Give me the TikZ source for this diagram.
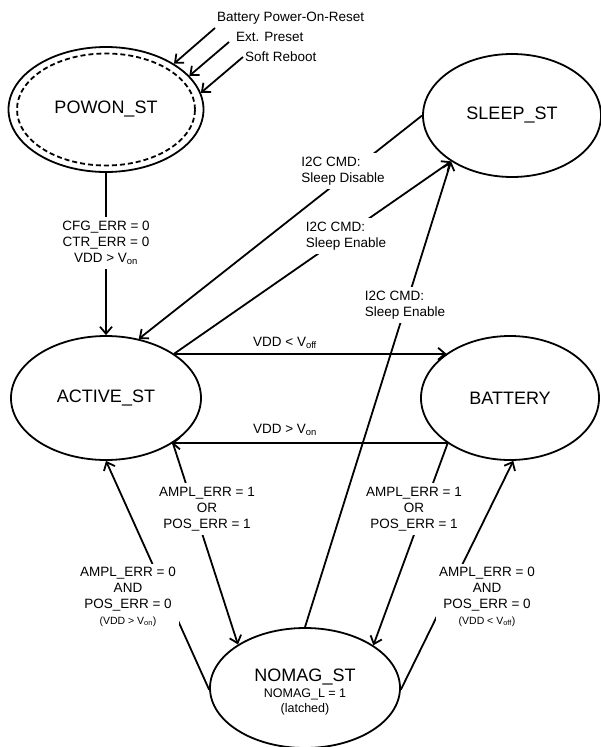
\documentclass[tikz,border=0pt]{standalone}
\usepackage{fontspec}
\setmainfont{Liberation Sans}
\usetikzlibrary{arrows.meta,shapes.geometric}
\tikzset{
  st/.style={draw, ellipse, line width=1.8pt, inner sep=0pt, align=center,
    font=\fontsize{18}{20}\selectfont},
  tr/.style={line width=1.8pt, -{Straight Barb[length=7pt,width=12pt,line width=1.8pt]}},
  lbl/.style={font=\fontsize{13.5}{15.8}\selectfont, align=center, inner sep=0pt},
  gap/.style={lbl, fill=white, inner xsep=3pt, inner ysep=4pt},
}
\newcommand\smallcond{\fontsize{10.5}{13}\selectfont}
\newcommand\nomagsub{\fontsize{12.5}{15}\selectfont}
\begin{document}
\begin{tikzpicture}[x=1pt,y=-1pt]
\useasboundingbox (0,0) rectangle (601,747);
% states
\node[st, minimum width=195pt, minimum height=125pt] (powon) at (106,109.5) {POWON\_ST};
\draw[line width=1.8pt, dash pattern=on 5pt off 3pt] (powon.center) ellipse [x radius=89pt, y radius=56pt];
\node[st, minimum width=190pt, minimum height=124pt] (active) at (106,398) {ACTIVE\_ST};
\node[st, minimum width=178pt, minimum height=124pt] (battery) at (510,398) {BATTERY};
\node[st, minimum width=178pt, minimum height=123pt] (sleep) at (512,115.5) {SLEEP\_ST};
\node[st, minimum width=190pt, minimum height=120pt, font=\fontsize{18}{15.5}\selectfont] (nomag) at (305,688)
  {\raisebox{0pt}[0pt][0pt]{}\\[6pt]NOMAG\_ST\\{\nomagsub NOMAG\_L = 1}\\{\nomagsub (latched)}};
% reset sources
\node[lbl, anchor=west] (t1) at (217,18) {Battery Power-On-Reset};
\node[lbl, anchor=west] (t2) at (236,37) {Ext. Preset};
\node[lbl, anchor=west] (t3) at (245,57) {Soft Reboot};
\draw[tr] ([shift={(-2,10)}]t1.west) -- (powon.34);
\draw[tr] ([shift={(-7,5)}]t2.west) -- (powon.22);
\draw[tr] ([shift={(-2,0)}]t3.west) -- (powon.10);
% transitions
\draw[tr] (powon) -- (active);
\draw[tr] (sleep.180) -- (active.61);
\draw[tr] (active.33) -- (sleep.217);
\draw[tr] (nomag.90) -- (sleep.217);
\draw[tr] (active.33) -- (active.33 -| battery.145);
\draw[tr] (battery.216) -- (battery.216 -| active.325);
\draw[tr] (active.326) -- (nomag.147);
\draw[tr] (battery.216) -- (nomag.32);
\draw[tr] (nomag.181) -- (active.270);
\draw[tr] (nomag.359) -- (battery.273);
% labels
\node[gap] (l1) at (106,243) {CFG\_ERR = 0\\CTR\_ERR = 0\\VDD > V\textsubscript{on}};
\node[gap, align=left] (l2) at (343,171) {I2C CMD:\\Sleep Disable};
\node[gap, align=left] (l3) at (346,236) {I2C CMD:\\Sleep Enable};
\node[gap, align=left] (l4) at (405,305) {I2C CMD:\\Sleep Enable};
\node[lbl] (l5) at (285,343) {VDD < V\textsubscript{off}};
\node[lbl] (l6) at (285,430) {VDD > V\textsubscript{on}};
\node[gap] (l7) at (207,509) {AMPL\_ERR = 1\\OR\\POS\_ERR = 1};
\node[gap] (l8) at (414,509) {AMPL\_ERR = 1\\OR\\POS\_ERR = 1};
\node[gap] (l9) at (128,597) {AMPL\_ERR = 0\\AND\\POS\_ERR = 0\\{\smallcond (VDD > V\textsubscript{on})}};
\node[gap] (l10) at (487,597) {AMPL\_ERR = 0\\AND\\POS\_ERR = 0\\{\smallcond (VDD < V\textsubscript{off})}};
\end{tikzpicture}
\end{document}
